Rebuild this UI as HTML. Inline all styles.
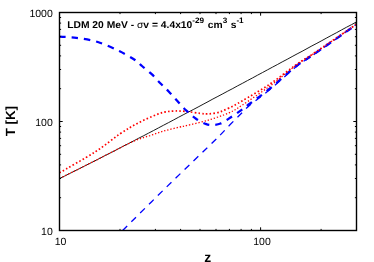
<!DOCTYPE html>
<html><head><meta charset="utf-8"><style>
html,body{margin:0;padding:0;background:#fff;}
svg{display:block;will-change:transform}
text{font-family:"Liberation Sans",sans-serif;fill:#000;text-rendering:geometricPrecision}
</style></head><body>
<svg width="374" height="262" viewBox="0 0 374 262">
<rect width="374" height="262" fill="#fff"/>
<g fill="none">
<path d="M59.5,178.5 L64.5,176.1 L69.4,173.6 L74.3,171.2 L79.3,168.7 L84.2,166.2 L89.2,163.7 L94.2,161.2 L99.1,158.7 L104.0,156.1 L109.0,153.6 L114.0,151.1 L118.9,148.5 L123.8,145.9 L128.8,143.4 L133.8,140.8 L138.7,138.2 L143.7,135.7 L148.6,133.1 L153.6,130.5 L158.5,127.9 L163.4,125.3 L168.4,122.7 L173.3,120.1 L178.3,117.4 L183.2,114.8 L188.2,112.2 L193.2,109.6 L198.1,107.0 L203.1,104.3 L208.0,101.7 L212.9,99.0 L217.9,96.4 L222.8,93.8 L227.8,91.1 L232.8,88.5 L237.7,85.8 L242.7,83.2 L247.6,80.5 L252.6,77.9 L257.5,75.2 L262.4,72.6 L267.4,69.9 L272.4,67.2 L277.3,64.6 L282.2,61.9 L287.2,59.3 L292.1,56.6 L297.1,53.9 L302.1,51.3 L307.0,48.6 L311.9,45.9 L316.9,43.3 L321.9,40.6 L326.8,37.9 L331.8,35.2 L336.7,32.6 L341.6,29.9 L346.6,27.2 L351.6,24.6 L356.5,21.9" stroke="#000" stroke-width="0.9"/>
<path d="M59.5,172.8 C65.4,169.3 84.9,158.5 95.0,152.0 C105.1,145.5 112.8,138.7 120.0,133.8 C127.2,129.0 132.2,126.1 138.3,122.9 C144.4,119.7 152.0,116.4 156.6,114.6 C161.2,112.8 162.6,112.5 165.7,111.9 C168.8,111.3 171.4,111.1 174.9,111.0 C178.4,110.9 182.2,111.1 186.4,111.5 C190.6,111.9 196.4,112.9 200.0,113.3 C203.6,113.7 204.7,114.1 207.8,113.9 C210.9,113.8 215.0,113.4 218.5,112.4 C222.0,111.4 225.1,109.9 229.0,108.0 C232.9,106.1 235.2,105.0 242.0,101.0 C248.8,97.0 260.9,90.1 270.0,84.0 C279.1,77.9 288.9,69.8 296.4,64.5 C303.9,59.2 305.1,59.2 315.0,52.5 C324.9,45.8 349.2,29.2 356.0,24.5" stroke="#f00" stroke-width="1.7" stroke-dasharray="1.6,2.2"/>
<path d="M59.5,36.7 C62.3,36.9 70.0,36.9 76.4,37.8 C82.8,38.7 90.7,39.8 97.8,42.0 C104.9,44.2 113.0,48.0 119.2,51.0 C125.4,54.0 131.2,57.5 135.0,60.0 C138.8,62.5 139.2,63.6 142.0,66.0 C144.8,68.4 148.6,71.3 151.7,74.2 C154.8,77.1 157.4,80.3 160.3,83.2 C163.2,86.1 166.0,88.7 168.9,91.7 C171.8,94.7 174.7,98.1 177.6,101.3 C180.5,104.5 183.3,107.8 186.4,110.7 C189.5,113.6 192.8,116.6 196.0,118.8 C199.2,121.0 202.9,122.9 205.6,123.9 C208.3,124.9 209.5,125.1 212.0,125.0 C214.5,124.9 217.4,124.8 220.6,123.5 C223.8,122.2 227.7,119.3 231.3,117.0 C234.9,114.7 238.9,111.8 242.0,109.6 C245.1,107.3 245.3,107.0 250.0,103.5 C254.7,100.0 262.3,94.8 270.0,88.5 C277.7,82.2 288.9,71.8 296.4,66.0 C303.9,60.2 305.1,60.4 315.0,53.5 C324.9,46.6 349.2,29.6 356.0,24.8" stroke="#00f" stroke-width="2.3" stroke-dasharray="6.4,6" stroke-dashoffset="0.2"/>
<path d="M122.6,230.5 C130.8,222.3 156.8,196.5 172.1,181.6 C187.4,166.7 204.7,150.3 214.2,141.0 C223.7,131.7 224.6,130.3 229.2,125.6 C233.8,120.9 238.5,116.2 242.0,112.8 C245.5,109.4 245.3,108.9 250.0,105.0 C254.7,101.1 262.3,95.9 270.0,89.5 C277.7,83.1 288.9,72.5 296.4,66.5 C303.9,60.5 305.1,60.8 315.0,53.8 C324.9,46.8 349.2,29.6 356.0,24.8" stroke="#00f" stroke-width="1.3" stroke-dasharray="6.6,5.8"/>
<path d="M59.5,178.5 C62.0,177.3 69.4,173.6 74.3,171.2 C79.3,168.7 84.2,166.2 89.2,163.7 C94.2,161.2 99.1,158.7 104.0,156.1 C109.0,153.6 113.7,151.1 118.9,148.5 C124.1,145.9 129.8,142.8 135.0,140.6 C140.2,138.4 145.0,137.2 150.0,135.6 C155.0,133.9 160.0,132.1 165.0,130.7 C170.0,129.3 176.4,127.8 180.0,127.0 C183.6,126.2 181.8,126.7 186.4,125.6 C191.0,124.5 200.7,122.4 207.8,120.3 C214.9,118.2 223.3,115.3 229.0,112.8 C234.7,110.3 235.2,109.8 242.0,105.3 C248.8,100.8 260.9,92.7 270.0,86.0 C279.1,79.3 288.9,70.5 296.4,65.0 C303.9,59.5 305.1,59.5 315.0,52.8 C324.9,46.0 349.2,29.2 356.0,24.5" stroke="#f00" stroke-width="1.3" stroke-dasharray="1.3,1.9"/>
</g>
<g stroke="#000" stroke-width="1" fill="none"><path d="M120.0,230.5 v-1.6 M120.0,12.5 v1.6"/><path d="M155.4,230.5 v-1.6 M155.4,12.5 v1.6"/><path d="M180.6,230.5 v-1.6 M180.6,12.5 v1.6"/><path d="M200.0,230.5 v-1.6 M200.0,12.5 v1.6"/><path d="M216.0,230.5 v-1.6 M216.0,12.5 v1.6"/><path d="M229.4,230.5 v-1.6 M229.4,12.5 v1.6"/><path d="M241.1,230.5 v-1.6 M241.1,12.5 v1.6"/><path d="M251.4,230.5 v-1.6 M251.4,12.5 v1.6"/><path d="M260.6,230.5 v-3.2 M260.6,12.5 v3.2"/><path d="M321.1,230.5 v-1.6 M321.1,12.5 v1.6"/><path d="M356.5,230.5 v-1.6 M356.5,12.5 v1.6"/><path d="M59.5,197.7 h1.6 M356.5,197.7 h-1.6"/><path d="M59.5,178.5 h1.6 M356.5,178.5 h-1.6"/><path d="M59.5,164.9 h1.6 M356.5,164.9 h-1.6"/><path d="M59.5,154.3 h1.6 M356.5,154.3 h-1.6"/><path d="M59.5,145.7 h1.6 M356.5,145.7 h-1.6"/><path d="M59.5,138.4 h1.6 M356.5,138.4 h-1.6"/><path d="M59.5,132.1 h1.6 M356.5,132.1 h-1.6"/><path d="M59.5,126.5 h1.6 M356.5,126.5 h-1.6"/><path d="M59.5,121.5 h3.2 M356.5,121.5 h-3.2"/><path d="M59.5,88.7 h1.6 M356.5,88.7 h-1.6"/><path d="M59.5,69.5 h1.6 M356.5,69.5 h-1.6"/><path d="M59.5,55.9 h1.6 M356.5,55.9 h-1.6"/><path d="M59.5,45.3 h1.6 M356.5,45.3 h-1.6"/><path d="M59.5,36.7 h1.6 M356.5,36.7 h-1.6"/><path d="M59.5,29.4 h1.6 M356.5,29.4 h-1.6"/><path d="M59.5,23.1 h1.6 M356.5,23.1 h-1.6"/><path d="M59.5,17.5 h1.6 M356.5,17.5 h-1.6"/></g>
<rect x="59.5" y="12.5" width="297.0" height="218.0" fill="none" stroke="#000" stroke-width="1.4"/>
<text transform="translate(67.2,27.6) scale(1,0.96)" font-size="10.3" font-weight="bold">LDM 20 MeV - <tspan font-weight="normal">σ</tspan>v = 4.4x10<tspan dy="-4.5" font-size="8.2">-29</tspan><tspan dy="4.5" dx="0.8"> cm</tspan><tspan dy="-4.5" font-size="8.2">3</tspan><tspan dy="4.5" dx="0.5"> s</tspan><tspan dy="-4.5" font-size="8.2">-1</tspan></text>
<g font-size="10.5">
<text x="52.8" y="16.8" text-anchor="end">1000</text>
<text x="52.8" y="125.5" text-anchor="end">100</text>
<text x="52.8" y="234.6" text-anchor="end">10</text>
<text x="60.6" y="244.6" text-anchor="middle">10</text>
<text x="262" y="244.6" text-anchor="middle">100</text>
</g>
<text x="207.7" y="261.6" font-size="13.9" font-weight="bold" text-anchor="middle">z</text>
<text transform="translate(15.2,121.1) rotate(-90)" font-size="13.3" font-weight="bold" text-anchor="middle">T [K]</text>
</svg>
</body></html>
